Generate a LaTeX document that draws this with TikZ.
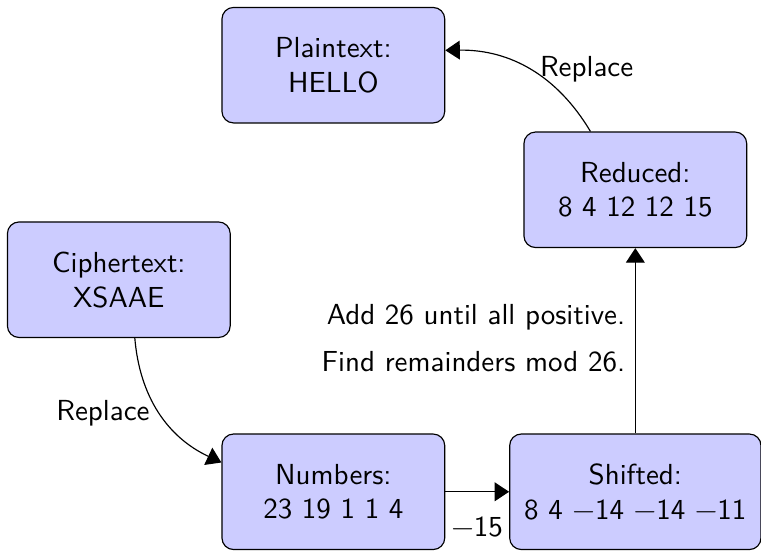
\documentclass[tikz,border=0pt]{standalone}
\usepackage{fontspec}
\usetikzlibrary{positioning, calc, arrows.meta}
\tikzset{stage/.style={draw, fill=blue!20, rounded corners, align=center, minimum width=2.7cm, minimum height=1.4cm, inner xsep=5pt}}
\tikzset{>={Triangle[length=5pt, width=6.5pt]}}

\begin{document}
\begin{tikzpicture}[font=\sffamily]
      \useasboundingbox (0,0) rectangle (9.223,-6.678);

      \node[stage] (ciph) at (1.44,-3.39) {Ciphertext:\\XSAAE};
      \node[stage] (num) at ($(ciph)+(2.6,-2.57)$) {Numbers:\\23 19 1 1 4};
      \node[stage] (shift) at ($(num)+(3.66,0)$) {Shifted:\\8 4 −14 −14 −11};
      \node[stage] (red) at ($(shift)+(0,3.66)$) {Reduced:\\8 4 12 12 15};
      \node[stage] (plain) at ($(red)+(-3.66,1.51)$) {Plaintext:\\HELLO};

      \draw[->] (ciph) to[bend right] node[left] {Replace} (num);
      \draw[->] (num) -- node[below=5pt] {−15} (shift);
      \draw[->] (shift) -- node[above left] {Add 26 until all positive.}
        node[below left] {Find remainders mod 26.} (red);
      \draw[->] (red) to[bend right] node[right] {Replace} (plain);
    \end{tikzpicture}
\end{document}
